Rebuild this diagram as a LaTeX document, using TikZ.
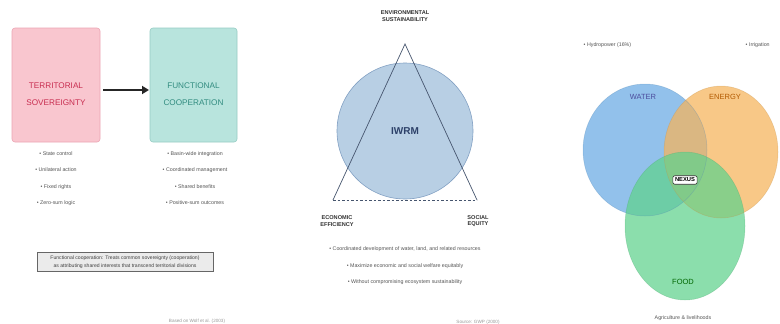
\documentclass[tikz,border=0pt]{standalone}
\usepackage{fontspec}
\setmainfont{Liberation Sans}
\usetikzlibrary{arrows.meta}
\definecolor{pinkfill}{RGB}{249,198,207}
\definecolor{pinkdraw}{RGB}{236,165,180}
\definecolor{pinktext}{RGB}{200,45,80}
\definecolor{tealfill}{RGB}{184,228,221}
\definecolor{tealdraw}{RGB}{150,205,196}
\definecolor{tealtext}{RGB}{50,140,128}
\definecolor{listgray}{RGB}{85,85,85}
\definecolor{iwrmfill}{RGB}{184,207,228}
\definecolor{iwrmdraw}{RGB}{130,160,195}
\definecolor{iwrmtext}{RGB}{45,65,105}
\definecolor{tridraw}{RGB}{70,85,110}
\definecolor{wblue}{RGB}{105,170,228}
\definecolor{eorange}{RGB}{246,180,90}
\definecolor{fgreen}{RGB}{95,210,140}
\begin{document}
\begin{tikzpicture}[x={(1pt,0)},y={(0,-1pt)},
  box/.style={draw, rounded corners=3pt, line width=0.6pt},
  boxtext/.style={font=\fontsize{8.2}{9}\selectfont, align=center},
  item/.style={font=\fontsize{5.3}{6}\selectfont, text=listgray, inner sep=0.5pt},
  credit/.style={font=\fontsize{4.6}{5}\selectfont, text=gray!80, inner sep=0pt},
  cornerlab/.style={font=\bfseries\fontsize{5.6}{6.4}\selectfont, text=black!80, align=center, inner sep=0pt},
  venn/.style={fill opacity=0.72, draw opacity=0.9, line width=0.5pt},
  vlab/.style={font=\fontsize{7.5}{8}\selectfont, inner sep=0pt}]
\useasboundingbox[fill=white] (0,0) rectangle (780,324);

% ---------- Panel 1 ----------
\node[box, fill=pinkfill, draw=pinkdraw, minimum width=88pt, minimum height=114pt] (ts) at (56,85) {};
\node[boxtext, text=pinktext] (tst) at (56,94) {TERRITORIAL\\[8pt]SOVEREIGNTY};
\node[box, fill=tealfill, draw=tealdraw, minimum width=87pt, minimum height=114pt] (fc) at (193.5,85) {};
\node[boxtext, text=tealtext] (fct) at (193.5,94) {FUNCTIONAL\\[8pt]COOPERATION};
\coordinate (a1) at (103,90);
\coordinate (a2) at (149,90);
\draw[-{Triangle[length=7pt,width=8pt]}, line width=2.8pt, black!85] (a1) -- (a2);

\node[item] (l1) at (56,154) {• State control};
\node[item] (l2) at (56,170) {• Unilateral action};
\node[item] (l3) at (56,187) {• Fixed rights};
\node[item] (l4) at (56,203) {• Zero-sum logic};
\node[item] (r1) at (195,154) {• Basin-wide integration};
\node[item] (r2) at (195,170) {• Coordinated management};
\node[item] (r3) at (195,187) {• Shared benefits};
\node[item] (r4) at (195,203) {• Positive-sum outcomes};

\node[draw=black!60, fill=black!8, line width=0.5pt, minimum width=176pt, minimum height=19pt, inner sep=1pt] (note) at (125,262) {};
\node[font=\fontsize{5.1}{8}\selectfont, text=black!75, align=center] (notet) at (125,262) {Functional cooperation: Treats common sovereignty (cooperation)\\as attributing shared interests that transcend territorial divisions};
\node[credit] (c1) at (197,321) {Based on Wolf et al. (2003)};

% ---------- Panel 2 ----------
\node[circle, draw=iwrmdraw, fill=iwrmfill, line width=0.6pt, minimum size=136pt, inner sep=0pt] (circ) at (405,131) {};
\coordinate (ta) at (405,44);
\coordinate (tl) at (333,200);
\coordinate (tr) at (477,200);
\draw[tridraw, line width=0.7pt] (tl) -- (ta) -- (tr);
\draw[tridraw, line width=0.7pt, dashed, dash pattern=on 2.5pt off 2pt] (tl) -- (tr);
\node[font=\bfseries\fontsize{10}{11}\selectfont, text=iwrmtext] (iwrm) at (405,131) {IWRM};
\node[cornerlab] (env) at (405,16) {ENVIRONMENTAL\\SUSTAINABILITY};
\node[cornerlab] (eco) at (337,221) {ECONOMIC\\EFFICIENCY};
\node[cornerlab] (soc) at (478,221) {SOCIAL\\EQUITY};
\node[item] (m1) at (405,249) {• Coordinated development of water, land, and related resources};
\node[item] (m2) at (405,266) {• Maximize economic and social welfare equitably};
\node[item] (m3) at (405,282) {• Without compromising ecosystem sustainability};
\node[credit] (c2) at (478,322) {Source: GWP (2000)};

% ---------- Panel 3 ----------
\fill[wblue, venn] (645,150) ellipse [x radius=62, y radius=66];
\fill[eorange, venn] (721,152) ellipse [x radius=57, y radius=66];
\fill[fgreen, venn] (685,226) ellipse [x radius=60, y radius=74];
\draw[wblue!80!black, draw opacity=0.35, line width=0.5pt] (645,150) ellipse [x radius=62, y radius=66];
\draw[eorange!80!black, draw opacity=0.35, line width=0.5pt] (721,152) ellipse [x radius=57, y radius=66];
\draw[fgreen!80!black, draw opacity=0.35, line width=0.5pt] (685,226) ellipse [x radius=60, y radius=74];
\node[vlab, text=blue!45!black!70] (water) at (643,97) {WATER};
\node[vlab, text=orange!70!black] (energy) at (725,97) {ENERGY};
\node[vlab, text=green!40!black] (food) at (683,282) {FOOD};
\node[draw=black!80, fill=white, rounded corners=2pt, line width=0.6pt, font=\bfseries\fontsize{5.8}{6}\selectfont, inner sep=2.2pt] (nexus) at (685,180) {NEXUS};
\node[item, anchor=west] (h1) at (583,45) {• Hydropower (16\%)};
\node[item, anchor=west] (h2) at (745,45) {• Irrigation};
\node[item] (h3) at (683,318) {Agriculture \& livelihoods};
\end{tikzpicture}
\end{document}
